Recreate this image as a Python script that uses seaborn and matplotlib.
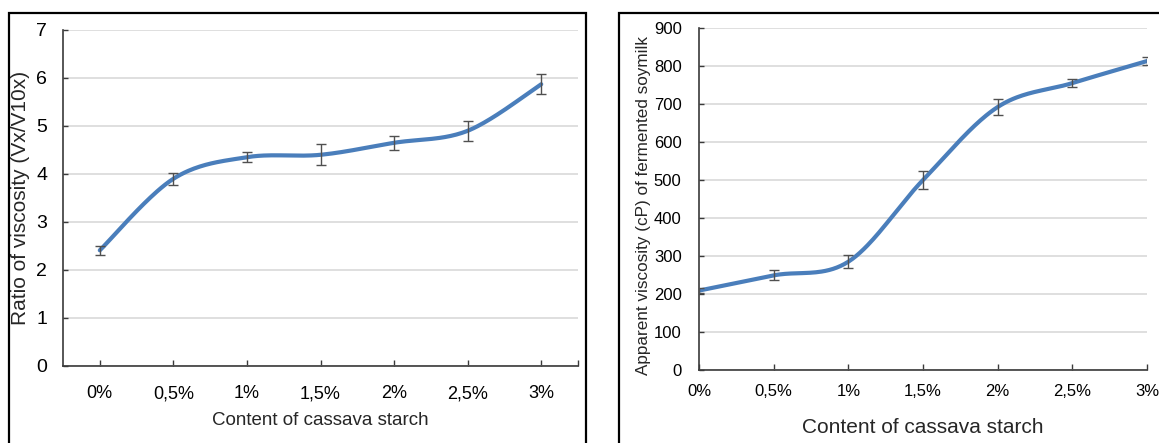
import numpy as np
import pandas as pd
import matplotlib
matplotlib.use("Agg")
import matplotlib.pyplot as plt
from matplotlib.patches import Rectangle
import seaborn as sns

# ---------------- data ----------------
categories = ["0%", "0,5%", "1%", "1,5%", "2%", "2,5%", "3%"]
ratio_values = [2.41, 3.90, 4.35, 4.40, 4.65, 4.90, 5.87]
ratio_errors = [0.10, 0.12, 0.10, 0.22, 0.15, 0.21, 0.21]
visc_values = [209, 249, 285, 500, 692, 755, 813]
visc_errors = [6, 13, 17, 23, 21, 10, 11]
left_yticks = [0, 1, 2, 3, 4, 5, 6, 7]
right_yticks = [0, 100, 200, 300, 400, 500, 600, 700, 800, 900]

# ---------------- style ----------------
sns.set_theme(style="white")
plt.rcParams["font.family"] = ["Liberation Sans", "DejaVu Sans"]
LINE = "#4a7ebb"
GRID = "#d9d9d9"
AXC = "#3a3a3a"


def excel_smooth(xs, ys, n=40):
    """Excel-style smoothed line (Catmull-Rom Bezier) through the data points."""
    xs = np.asarray(xs, float)
    ys = np.asarray(ys, float)
    P = np.column_stack([xs, ys])
    Pp = np.vstack([P[0], P, P[-1]])
    out = []
    t = np.linspace(0, 1, n)[:, None]
    for i in range(len(P) - 1):
        p0, p1, p2, p3 = Pp[i], Pp[i + 1], Pp[i + 2], Pp[i + 3]
        b1 = p1 + (p2 - p0) / 6.0
        b2 = p2 - (p3 - p1) / 6.0
        seg = ((1 - t) ** 3) * p1 + 3 * ((1 - t) ** 2) * t * b1 + 3 * (1 - t) * t ** 2 * b2 + t ** 3 * p2
        out.append(seg if i == 0 else seg[1:])
    c = np.vstack(out)
    return pd.DataFrame({"x": c[:, 0], "y": c[:, 1]})


fig = plt.figure(figsize=(11.59, 4.43), dpi=100)
W, H = 1159, 443


def fbox(x0, y0, x1, y1):
    return [x0 / W, 1 - y1 / H, (x1 - x0) / W, (y1 - y0) / H]


# frames around each chart
fig.patches.append(Rectangle((9 / W, -0.05), (586 - 9) / W, 1.05 - 13 / H,
                             transform=fig.transFigure, fill=False,
                             edgecolor="black", linewidth=1.6, zorder=0))
fig.patches.append(Rectangle((619 / W, -0.05), 0.5, 1.05 - 13 / H,
                             transform=fig.transFigure, fill=False,
                             edgecolor="black", linewidth=1.6, zorder=0))

ax1 = fig.add_axes(fbox(63, 30, 578, 366))
ax2 = fig.add_axes(fbox(699, 28, 1147, 370))

pos = np.arange(len(categories))

# ---- left chart ----
d1 = excel_smooth(pos, ratio_values)
sns.lineplot(data=d1, x="x", y="y", ax=ax1, color=LINE, linewidth=3.0,
             sort=False, estimator=None)
ax1.errorbar(pos, ratio_values, yerr=ratio_errors, fmt="none",
             ecolor="#505050", elinewidth=1.0, capsize=3.5, capthick=1.0, zorder=3)
ax1.set_xlim(-0.5, 6.5)
ax1.set_ylim(0, 7)
ax1.set_yticks(left_yticks)
ax1.set_xticks(pos)
ax1.set_xticks([6.5], minor=True)
ax1.set_xticklabels(categories, fontsize=13)
ax1.set_yticklabels([str(v) for v in left_yticks], fontsize=14)
ax1.tick_params(axis="x", which="both", direction="in", length=4.5, width=1,
                color=AXC, pad=14, bottom=True)
ax1.tick_params(axis="y", direction="in", length=3.5, width=1, color=AXC,
                pad=11.5, left=True)
ax1.set_xlabel("Content of cassava starch", fontsize=13.5, labelpad=7)
ax1.set_ylabel("Ratio of viscosity (Vx/V10x)", fontsize=15, labelpad=4)
ax1.grid(axis="y", color=GRID, linewidth=1.2)
ax1.set_axisbelow(True)
for s in ["top", "right"]:
    ax1.spines[s].set_visible(False)
for s in ["left", "bottom"]:
    ax1.spines[s].set_color(AXC)
    ax1.spines[s].set_linewidth(1.2)

# ---- right chart ----
d2 = excel_smooth(pos, visc_values)
sns.lineplot(data=d2, x="x", y="y", ax=ax2, color=LINE, linewidth=3.0,
             sort=False, estimator=None)
ax2.errorbar(pos, visc_values, yerr=visc_errors, fmt="none",
             ecolor="#505050", elinewidth=1.0, capsize=3.5, capthick=1.0, zorder=3)
ax2.set_xlim(0, 6)
ax2.set_ylim(0, 900)
ax2.set_yticks(right_yticks)
ax2.set_xticks(pos)
ax2.set_xticklabels(categories, fontsize=12)
ax2.set_yticklabels([str(v) for v in right_yticks], fontsize=12)
ax2.tick_params(axis="x", direction="in", length=4.5, width=1, color=AXC,
                pad=10, bottom=True)
ax2.tick_params(axis="y", direction="in", length=3.5, width=1, color=AXC,
                pad=12.5, left=True)
ax2.set_xlabel("Content of cassava starch", fontsize=15, labelpad=14)
ax2.set_ylabel("Apparent viscosity (cP) of fermented soymilk", fontsize=12.3)
ax2.yaxis.set_label_coords(-0.107, 0.48)
ax2.grid(axis="y", color=GRID, linewidth=1.2)
ax2.set_axisbelow(True)
for s in ["top", "right"]:
    ax2.spines[s].set_visible(False)
for s in ["left", "bottom"]:
    ax2.spines[s].set_color(AXC)
    ax2.spines[s].set_linewidth(1.2)
for lab in ax1.get_xticklabels() + ax1.get_yticklabels() + ax2.get_xticklabels() + ax2.get_yticklabels():
    lab.set_color("black")

fig.savefig("out.png", dpi=100, facecolor="white")
